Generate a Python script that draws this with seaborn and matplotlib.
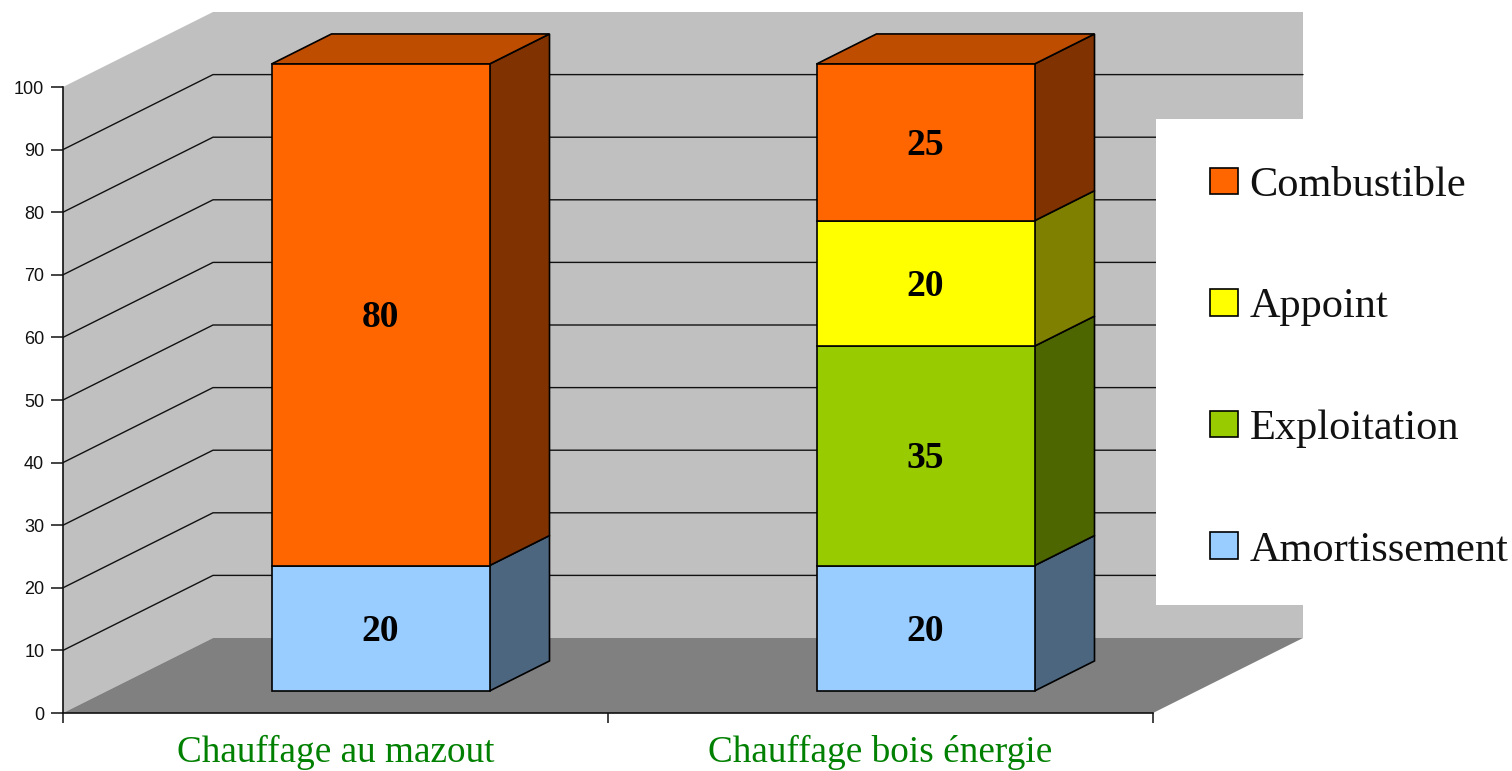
import matplotlib
matplotlib.use('Agg')
import matplotlib.pyplot as plt
import numpy as np
import pandas as pd
import seaborn as sns
from matplotlib.patches import Patch, Rectangle

systems = ['Chauffage au mazout', 'Chauffage bois énergie']
components = ['Amortissement', 'Exploitation', 'Appoint', 'Combustible']
amortissement = [20, 20]
exploitation = [0, 35]
appoint = [0, 20]
combustible = [80, 25]
y_ticks = [0, 10, 20, 30, 40, 50, 60, 70, 80, 90, 100]
comp_colors = ['#99ccff', '#99cc00', '#ffff00', '#ff6600']

W, H = 1512, 771
sns.set_style('white')
plt.rcParams['font.family'] = ['Liberation Serif', 'DejaVu Serif']


def px_axes(fig, left, right, bottom_y, top_y):
    # axes rectangle from reference pixel positions
    return fig.add_axes([left / W, 1 - bottom_y / H, (right - left) / W, (bottom_y - top_y) / H])


fig = plt.figure(figsize=(W / 100, H / 100), dpi=100)
ax = px_axes(fig, 63, 1153, 713, 87)
bar_ax = px_axes(fig, 63 + 45, 1153 + 45, 713 - 22, 87 - 23)
for a in (ax, bar_ax):
    a.set_xlim(-0.5, 1.5)
    a.set_ylim(0, 100)

# depth of the chart box and of the bars, in data units
box_dx, box_dy = 150 / 545, 75 / 6.26
bar_dx, bar_dy = 60 / 545, 30 / 6.26

# walls and floor
x0, x1 = -0.5, 1.5
ax.fill([x0, x0 + box_dx, x0 + box_dx, x0], [0, box_dy, 100 + box_dy, 100],
        color='#c0c0c0', lw=0, clip_on=False, zorder=1)
ax.fill([x0 + box_dx, x1 + box_dx, x1 + box_dx, x0 + box_dx], [box_dy, box_dy, 100 + box_dy, 100 + box_dy],
        color='#c0c0c0', lw=0, clip_on=False, zorder=1)
ax.fill([x0, x1, x1 + box_dx, x0 + box_dx], [0, 0, box_dy, box_dy],
        color='#808080', lw=0, clip_on=False, zorder=1)

# grid lines run along the side wall then the back wall
for t in y_ticks[1:-1]:
    ax.plot([x0, x0 + box_dx, x1 + box_dx], [t, t + box_dy, t + box_dy],
            color='#111111', lw=1.0, clip_on=False, zorder=2)

# white legend area hides the right part of the back wall
ax.add_artist(Rectangle((1156 / W, 1 - 605 / H), 356 / W, 486 / H, transform=fig.transFigure,
                        facecolor='white', edgecolor='none', clip_on=False, zorder=3))

# stacked bars
df = pd.DataFrame({'system': systems, 'Amortissement': amortissement, 'Exploitation': exploitation,
                   'Appoint': appoint, 'Combustible': combustible})
bottom = np.zeros(len(systems))
for comp, col in zip(components, comp_colors):
    vals = df[comp].to_numpy()
    keep = vals > 0
    before = len(bar_ax.containers)
    sns.barplot(data=df[keep], x='system', y=comp, order=systems, color=col, saturation=1,
                width=0.4, bottom=bottom[keep], edgecolor='black', linewidth=1.2,
                errorbar=None, ax=bar_ax, zorder=5, clip_on=False)
    for cont in bar_ax.containers[before:]:
        labels = bar_ax.bar_label(cont, label_type='center', fontsize=27, fontweight='bold', color='black')
        for lab in labels:
            lab.set_zorder(7)
            lab.xyann = (0, -2)
    # side face of each segment
    rgb = np.array(matplotlib.colors.to_rgb(col))
    for i in np.where(keep)[0]:
        xr = i + 0.2
        y0, y1 = bottom[i], bottom[i] + vals[i]
        bar_ax.fill([xr, xr + bar_dx, xr + bar_dx, xr], [y0, y0 + bar_dy, y1 + bar_dy, y1],
                    facecolor=rgb * 0.5, edgecolor='black', lw=1.2, clip_on=False, zorder=4)
    bottom = bottom + vals

# top face takes the colour of the highest segment
top_rgb = np.array(matplotlib.colors.to_rgb(comp_colors[-1])) * 0.75
for i, total in enumerate(bottom):
    xl, xr = i - 0.2, i + 0.2
    bar_ax.fill([xl, xr, xr + bar_dx, xl + bar_dx], [total, total, total + bar_dy, total + bar_dy],
                facecolor=top_rgb, edgecolor='black', lw=1.2, clip_on=False, zorder=4)

bar_ax.patch.set_alpha(0)
bar_ax.set_xlabel('')
bar_ax.set_ylabel('')
bar_ax.set_xticks([])
bar_ax.set_yticks([])
bar_ax.set_xlim(-0.5, 1.5)
bar_ax.set_ylim(0, 100)
sns.despine(ax=bar_ax, left=True, bottom=True)

# axes lines, ticks, labels
ax.patch.set_alpha(0)
sns.despine(ax=ax)
for side in ('left', 'bottom'):
    ax.spines[side].set_color('#111111')
    ax.spines[side].set_linewidth(1.2)
    ax.spines[side].set_zorder(6)
ax.set_yticks(y_ticks)
ax.set_yticklabels([str(t) for t in y_ticks], family='Liberation Sans', fontsize=13, color='#111111')
ax.tick_params(axis='y', left=True, length=8.5, width=1.1, color='#111111', pad=5)
ax.set_xticks([-0.5, 0.5, 1.5])
ax.set_xticklabels([])
ax.tick_params(axis='x', which='major', bottom=True, length=7.5, width=1.1, color='#111111')
ax.set_xticks([0, 1], minor=True)
ax.set_xticklabels(systems, minor=True, fontsize=26.8, color='#008000')
ax.tick_params(axis='x', which='minor', bottom=False, length=0, pad=16)

handles = [Patch(facecolor=c, edgecolor='black', linewidth=1.2, label=n)
           for n, c in zip(components[::-1], comp_colors[::-1])]
leg = fig.legend(handles=handles, loc='center left', bbox_to_anchor=(1210 / W, 1 - 368 / H), frameon=False,
                 fontsize=30.5, labelcolor='#111111', handlelength=0.66, handleheight=0.59, handletextpad=0.27,
                 labelspacing=1.96, borderpad=0, borderaxespad=0)
leg.set_zorder(10)

fig.savefig('out.png', dpi=100, facecolor='white')
